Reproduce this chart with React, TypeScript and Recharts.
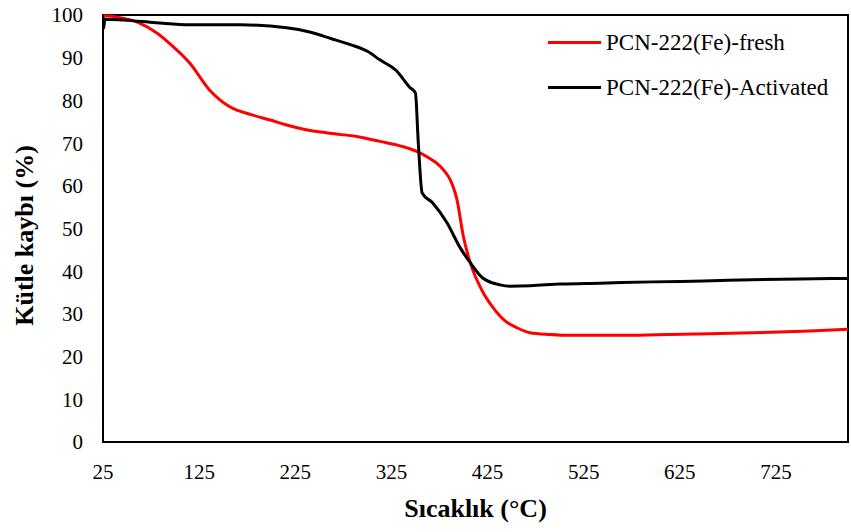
import { LineChart, Line, XAxis, YAxis, ReferenceArea, Label } from "recharts";

// TGA curves
const freshTemp = [25, 40, 63, 81, 95, 115, 136, 157, 180, 199, 215, 235, 261, 290, 313, 335, 352, 362, 376, 388, 393, 400, 407, 419, 431, 443, 456, 469, 490, 511, 560, 600, 667, 720, 760, 800];
const freshMass = [99.8, 99.5, 98.1, 95.8, 93.2, 88.8, 82.4, 78.5, 76.6, 75.4, 74.3, 73.2, 72.3, 71.5, 70.4, 69.3, 68, 66.8, 64.5, 60.5, 57, 48, 42, 35.6, 31.4, 28.4, 26.7, 25.6, 25.2, 25.0, 25.0, 25.1, 25.4, 25.7, 26, 26.4];

const actTemp = [25, 25.5, 27, 46, 80, 115, 168, 216, 240, 262, 283, 300, 313, 330, 344, 350, 353, 357, 368, 383, 396, 407, 420, 438, 448, 470, 500, 542, 597, 650, 700, 750, 800];
const actMass = [99.5, 96.8, 99, 98.8, 98.2, 97.7, 97.7, 97, 96, 94.5, 93, 91.5, 89.5, 87, 83.1, 81.7, 70, 58.3, 56, 51.3, 45.7, 42, 38.4, 36.8, 36.5, 36.6, 37, 37.2, 37.5, 37.7, 38, 38.2, 38.3];

const xTicks = [25, 125, 225, 325, 425, 525, 625, 725];
const yTicks = [0, 10, 20, 30, 40, 50, 60, 70, 80, 90, 100];

const fresh = freshTemp.map((t, i) => ({ t, v: freshMass[i] }));
const activated = actTemp.map((t, i) => ({ t, v: actMass[i] }));

const font = "'Liberation Serif', 'Times New Roman', serif";

const legendItems = [
  { name: "PCN-222(Fe)-fresh", color: "#ff0000" },
  { name: "PCN-222(Fe)-Activated", color: "#000000" },
];

function LegendBox() {
  return (
    <div style={{ position: "absolute", left: 548, top: 20, fontFamily: font, fontSize: 23, color: "#000" }}>
      {legendItems.map((it) => (
        <div key={it.name} style={{ display: "flex", alignItems: "center", height: 45 }}>
          <div style={{ width: 53, height: 3, background: it.color, marginRight: 5 }} />
          <span>{it.name}</span>
        </div>
      ))}
    </div>
  );
}

export default function App() {
  return (
    <div style={{ position: "absolute", left: 0, top: 0, width: 851, height: 532, background: "#fff" }}>
      <LineChart width={851} height={532} margin={{ top: 15, right: 3, left: 0, bottom: 0 }}>
        <XAxis
          type="number"
          dataKey="t"
          domain={[25, 800]}
          ticks={xTicks}
          allowDataOverflow
          height={90}
          axisLine={{ stroke: "#000", strokeWidth: 2 }}
          tickLine={false}
          tickMargin={16}
          tick={{ fill: "#000", fontSize: 21, fontFamily: font }}
        >
          <Label
            value="Sıcaklık (°C)"
            position="insideBottom"
            offset={15}
            style={{ fill: "#000", fontSize: 26, fontWeight: 700, fontFamily: font }}
          />
        </XAxis>
        <YAxis
          type="number"
          domain={[0, 100]}
          ticks={yTicks}
          width={103}
          axisLine={{ stroke: "#000", strokeWidth: 2 }}
          tickLine={false}
          tickMargin={14}
          tick={{ fill: "#000", fontSize: 21, fontFamily: font }}
        >
          <Label
            content={({ viewBox }: any) => {
              const cy = viewBox.y + viewBox.height / 2 + 7;
              const cx = 33;
              return (
                <text
                  x={cx}
                  y={cy}
                  textAnchor="middle"
                  transform={`rotate(-90, ${cx}, ${cy})`}
                  style={{ fill: "#000", fontSize: 26, fontWeight: 700, fontFamily: font }}
                >
                  Kütle kaybı (%)
                </text>
              );
            }}
          />
        </YAxis>
        <ReferenceArea x1={25} x2={800} y1={0} y2={100} fill="none" stroke="#000" strokeWidth={2} ifOverflow="visible" />
        <Line data={fresh} dataKey="v" type="monotone" stroke="#ff0000" strokeWidth={3} dot={false} isAnimationActive={false} />
        <Line data={activated} dataKey="v" type="monotone" stroke="#000000" strokeWidth={3} dot={false} isAnimationActive={false} />
      </LineChart>
      <LegendBox />
    </div>
  );
}
